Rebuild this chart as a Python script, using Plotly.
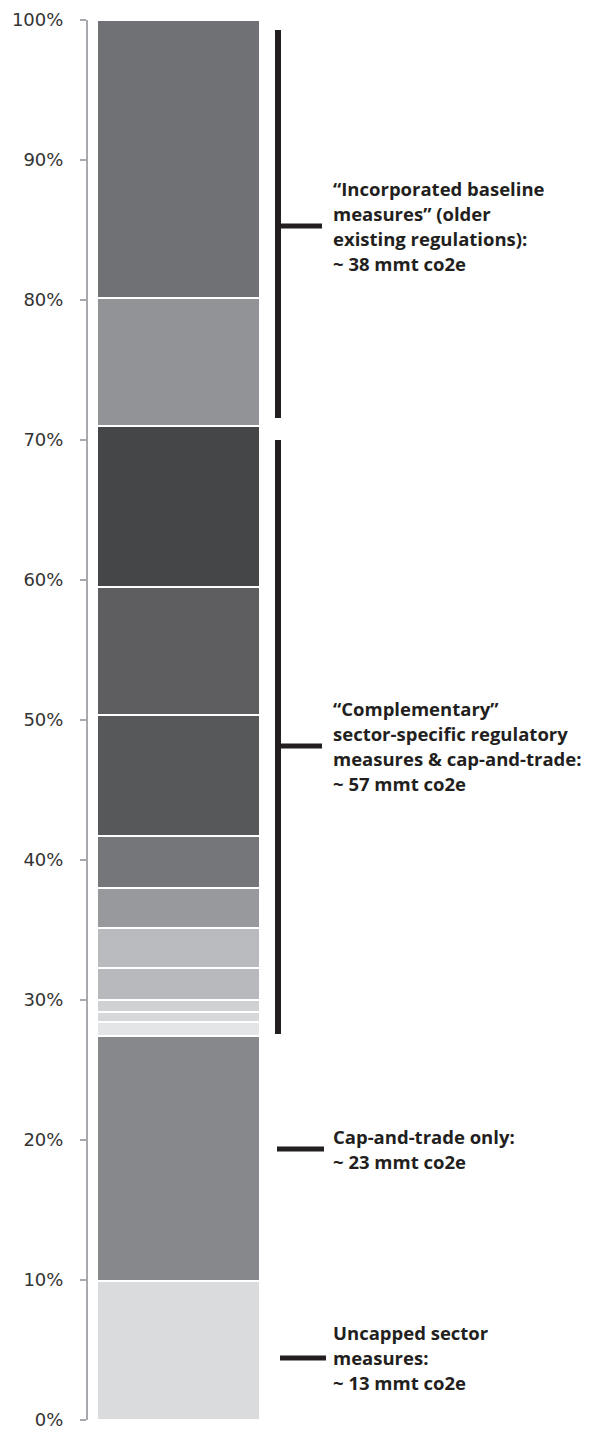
import plotly.graph_objects as go

# Segment shares (percent of total), bottom to top
segment_values = [9.9, 17.55, 0.95, 0.72, 0.88, 2.26, 2.86, 2.86, 3.71, 8.67, 9.12, 11.52, 9.14, 19.86]
segment_colors = ["#dadbdd", "#87888b", "#e4e5e6", "#d7d8da", "#d0d1d3", "#b8b9bc", "#b9babd",
                  "#98999c", "#75767a", "#57585a", "#5e5e60", "#454648", "#929396", "#707175"]

tick_values = [0, 10, 20, 30, 40, 50, 60, 70, 80, 90, 100]
tick_labels = ["0%", "10%", "20%", "30%", "40%", "50%", "60%", "70%", "80%", "90%", "100%"]

# Bracket groups: (bottom %, top %) of vertical bracket, arm level %, label lines
brackets = [(71.57, 99.29), (27.57, 70.0)]
arm_levels = [85.29, 48.14, 19.36, 4.43]
group_labels = [
    ["\u201cIncorporated baseline", "measures\u201d (older", "existing regulations):", "~ 38 mmt co2e"],
    ["\u201cComplementary\u201d", "sector-specific regulatory", "measures & cap-and-trade:", "~ 57 mmt co2e"],
    ["Cap-and-trade only:", "~ 23 mmt co2e"],
    ["Uncapped sector", "measures:", "~ 13 mmt co2e"],
]

W, H = 599, 1431
PLOT_TOP, PLOT_BOTTOM = 20, 1420
BAR_X, BAR_W = 178.5, 163
BRACKET_X = 278
ARM_START = [278, 278, 277, 280]
ARM_END = [322, 322, 324, 326]
TEXT_X = 331
INK = "#231f20"

fig = go.Figure()
for i, (v, c) in enumerate(zip(segment_values, segment_colors)):
    fig.add_trace(go.Bar(
        x=[BAR_X], y=[v], width=[BAR_W],
        marker=dict(color=c, line=dict(color="white", width=2)),
        showlegend=False, hoverinfo="skip",
    ))

for (y0, y1) in brackets:
    fig.add_shape(type="line", x0=BRACKET_X, x1=BRACKET_X, y0=y0, y1=y1,
                  xref="x", yref="y", line=dict(color=INK, width=6))

for i, lvl in enumerate(arm_levels):
    fig.add_shape(type="line", x0=ARM_START[i], x1=ARM_END[i], y0=lvl, y1=lvl,
                  xref="x", yref="y", line=dict(color=INK, width=5))
    lines = group_labels[i]
    n = len(lines)
    for j, t in enumerate(lines):
        fig.add_annotation(
            x=TEXT_X, y=lvl, xref="x", yref="y", text=t, showarrow=False,
            xanchor="left", yanchor="middle", yshift=-(j - (n - 1) / 2) * 25,
            font=dict(family="Open Sans", size=18.5, color=INK, weight="bold"),
        )

fig.update_layout(
    width=W, height=H,
    margin=dict(l=88, r=0, t=PLOT_TOP, b=H - PLOT_BOTTOM, pad=0),
    barmode="stack", bargap=0,
    plot_bgcolor="white", paper_bgcolor="white",
    xaxis=dict(range=[88, W], visible=False, fixedrange=True),
    yaxis=dict(
        range=[0, 100], showgrid=False, zeroline=False,
        showline=True, linecolor="#a7a9ac", linewidth=2,
        ticks="outside", ticklen=6, tickwidth=2, tickcolor="#a7a9ac",
        tickvals=tick_values, ticktext=tick_labels,
        tickfont=dict(family="DejaVu Sans", size=18, color="#333333"),
        ticklabelstandoff=13,
    ),
)

fig.write_html("out.html")
